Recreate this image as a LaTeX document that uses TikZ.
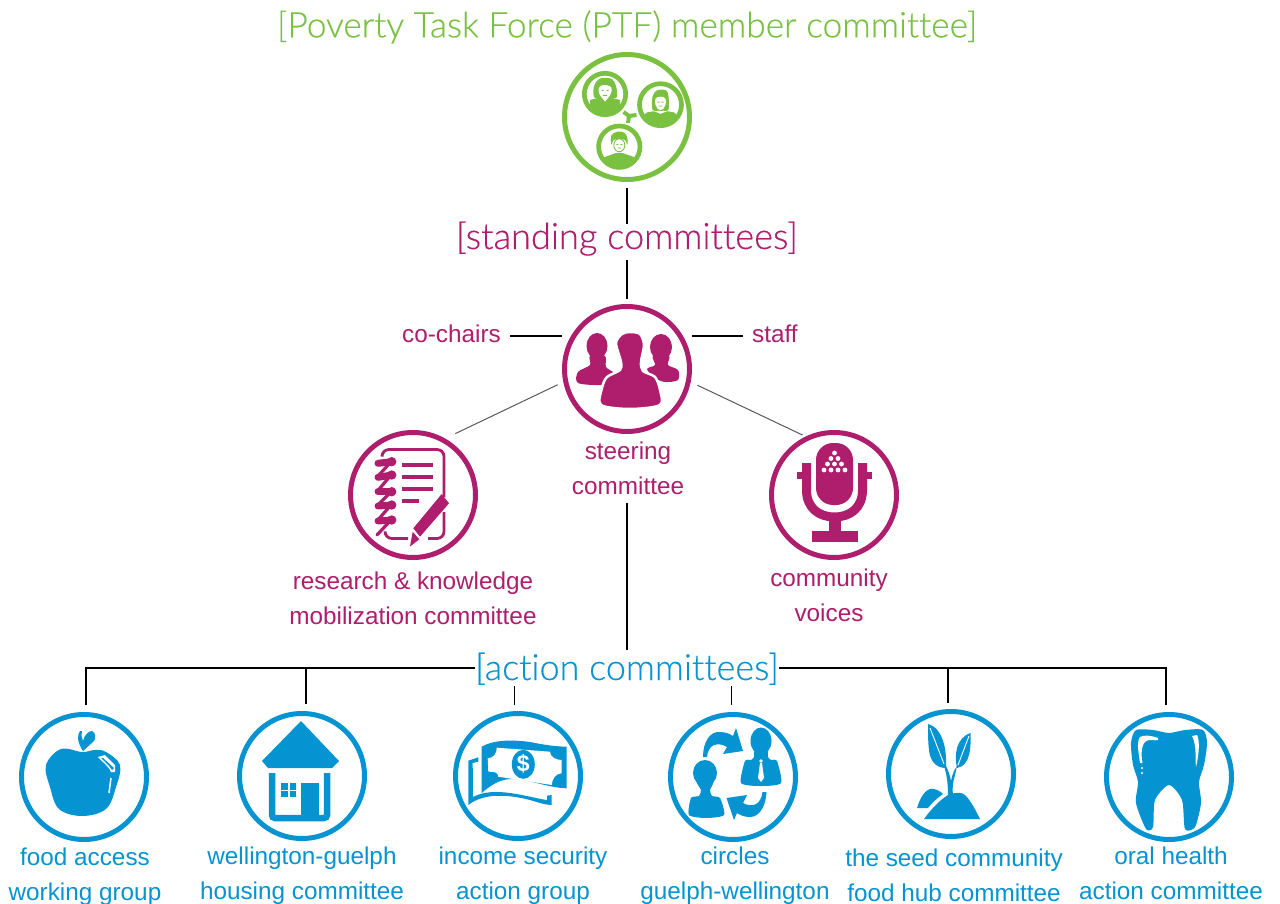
\documentclass[tikz,border=0pt]{standalone}
\usepackage{fontspec}
\setmainfont{Liberation Sans}
\newfontfamily\ttlfont[FakeBold=0.35,RawFeature={-liga}]{Lato Light}
\definecolor{cgreen}{RGB}{122,193,66}
\definecolor{cpink}{RGB}{174,30,109}
\definecolor{cblue}{RGB}{5,148,209}
\tikzset{
 ring/.style={circle,draw=#1,line width=5pt,minimum size=125pt,inner sep=0pt,outer sep=0pt},
 lab/.style={text=#1,font=\fontsize{24.3}{35}\selectfont,align=center,inner sep=0pt},
 ttl/.style={text=#1,inner sep=0pt,text height=25pt,text depth=11pt},
 conn/.style={draw=black,line width=2pt},
 thinconn/.style={draw=black!65,line width=1pt},
 stub/.style={draw=black,line width=1pt},
}
\begin{document}
\begin{tikzpicture}[x=1pt,y=-1pt]
\useasboundingbox (0,0) rectangle (1280,904);
\fill[white] (0,0) rectangle (1280,904);

% rings
\node[ring=cgreen] (ptf) at (627,117) {};
\node[ring=cpink] (steer) at (627,369) {};
\node[ring=cpink] (research) at (413,495) {};
\node[ring=cpink] (voices) at (834,495) {};
\node[ring=cblue] (food) at (84,777) {};
\node[ring=cblue] (housing) at (302,776) {};
\node[ring=cblue] (income) at (518,776) {};
\node[ring=cblue] (circles) at (733,777) {};
\node[ring=cblue] (seed) at (951,774) {};
\node[ring=cblue] (oral) at (1169,777) {};

% titles
\node[text=cgreen,inner sep=0pt,font=\ttlfont\fontsize{35.3}{36}\selectfont] (ptftitle) at (627,27) {[Poverty Task Force (PTF) member committee]};
\node[ttl=cpink,font=\ttlfont\fontsize{36.2}{36}\selectfont] (standing) at (627,242) {[standing committees]};
\node[ttl=cblue,font=\ttlfont\fontsize{36}{36}\selectfont,text height=30pt,text depth=6pt] (action) at (627,668) {[action committees]};

% labels
\node[lab=cpink,anchor=east,text height=20.4pt,text depth=7pt] (cochairs) at (501,336) {co-chairs};
\node[lab=cpink,anchor=west,text height=20.4pt,text depth=7pt] (staff) at (752,336) {staff};
\node[lab=cpink,minimum height=70pt] (steerlab) at (628,468) {steering\\committee};
\node[lab=cpink] (researchlab) at (413,598) {research \& knowledge\\mobilization committee};
\node[lab=cpink] (voiceslab) at (829,595) {community\\voices};
\node[lab=cblue] (foodlab) at (85,877) {food access\\working group};
\node[lab=cblue] (housinglab) at (302,876) {wellington-guelph\\housing committee};
\node[lab=cblue] (incomelab) at (523,876) {income security\\action group};
\node[lab=cblue] (circleslab) at (735,876) {circles\\guelph-wellington};
\node[lab=cblue] (seedlab) at (954,875) {the seed community\\food hub committee};
\node[lab=cblue] (orallab) at (1171,873) {oral health\\action committee};

% connectors
\draw[conn,shorten <=8.5pt] (ptf.south) -- (standing.north);
\draw[conn,shorten >=8pt] (standing.south) -- (steer.north);
\draw[conn,shorten <=9pt,shorten >=2.5pt] (cochairs.east) -- (cochairs.east -| steer.west);
\draw[conn,shorten <=9pt,shorten >=2.5pt] (staff.west) -- (staff.west -| steer.east);
\draw[thinconn,shorten <=8.8pt,shorten >=14.3pt] (steer.191.4) -- (research.62.3);
\draw[thinconn,shorten <=10pt,shorten >=6.6pt] (steer.349) -- (voices.114.5);
\draw[conn] (steerlab.south -| action.north) -- (action.north);
\draw[conn,shorten >=9.5pt] (action.west) -| ([xshift=2pt]food.north);
\draw[conn,shorten >=9.5pt] (action.west) -| ([xshift=4pt]housing.north);
\draw[conn,shorten >=9pt] (action.east) -| ([xshift=-3pt]seed.north);
\draw[conn,shorten >=9.5pt] (action.east) -| ([xshift=-3pt]oral.north);
\draw[stub,shorten >=8.5pt] (action.south -| income.north) ++(-4,0) -- ([xshift=-4pt]income.north);
\draw[stub,shorten >=9.5pt] (action.south -| circles.north) ++(-2,0) -- ([xshift=-2pt]circles.north);

% ---- PTF icon
\begin{scope}[shift={(605,94)}]
 \draw[cgreen,line width=4.7pt] (0,0) circle (20.7);
 \begin{scope}
  \clip (0,0) circle (19);
  \fill[cgreen] (-15,6) -- (-7,4) -- (-4,2) -- (0,8) -- (4,2) -- (7,4) -- (15,6) -- (15,20) -- (-15,20) -- cycle;
  \fill[cgreen] plot[smooth cycle,tension=.6] coordinates {(-11,3) (-11,-8) (-6,-15) (0,-16) (7,-15) (11,-8) (12,3) (7,4) (-6,4)};
  \fill[white] plot[smooth cycle,tension=.7] coordinates {(-6,-6) (-2,-9) (6,-7) (6,-1) (3,4) (0,6) (-3,4) (-6,-1)};
  \fill[cgreen] (-3.5,-4) rectangle +(2.2,1) (1.5,-4) rectangle +(2.2,1) (-2,1) rectangle +(4,.8);
 \end{scope}
\end{scope}
\begin{scope}[shift={(660.5,104.7)}]
 \draw[cgreen,line width=4.7pt] (0,0) circle (21);
 \begin{scope}
  \clip (0,0) circle (19);
  \fill[cgreen] plot[smooth cycle,tension=.6] coordinates {(-15,9) (-6,6) (0,9) (6,6) (15,9) (16,22) (-16,22)};
  \fill[white] (-16,5.5) -- (16,5.5) -- (16,8) -- (7,6.5) -- (0,9) -- (-7,6.5) -- (-16,8) -- cycle;
  \fill[cgreen] plot[smooth cycle,tension=.6] coordinates {(-8,5) (-8,-8) (-4,-14) (1,-15) (6,-14) (8,-8) (8,5) (3,6) (-3,6)};
  \fill[white] plot[smooth cycle,tension=.7] coordinates {(-5,-6) (0,-8) (5,-6) (5,0) (3,4) (0,5.5) (-3,4) (-5,0)};
  \fill[cgreen] (-3,-3) rectangle +(2,1) (1,-3) rectangle +(2,1) (-1.6,1) rectangle +(3.2,.7);
 \end{scope}
\end{scope}
\begin{scope}[shift={(619.3,146.7)}]
 \draw[cgreen,line width=4.7pt] (0,0) circle (20.7);
 \begin{scope}
  \clip (0,0) circle (19);
  \fill[cgreen] plot[smooth cycle,tension=.7] coordinates {(-18,13) (-8,8) (0,6) (8,8) (18,13) (18,22) (-18,22)};
  \fill[cgreen] plot[smooth cycle,tension=.6] coordinates {(-8,-2) (-8,-11) (-2,-15) (5,-14) (8,-9) (8,-2) (5,-7) (-5,-7)};
  \draw[cgreen,line width=.9pt] (0,-1.5) ellipse [x radius=5.5,y radius=6.5];
  \fill[cgreen] (-3,-2.5) rectangle +(2,.9) (1,-2.5) rectangle +(2,.9) (-1.5,1) rectangle +(3,.7);
 \end{scope}
\end{scope}
\draw[cgreen,line width=4pt] (623.5,112) -- (629,116) -- (636.5,115);
\draw[cgreen,line width=4pt] (629,116) -- (628,123);

% ---- steering icon
\fill[cpink] (597,346) ellipse [x radius=10.5,y radius=13];
\fill[cpink] plot[smooth cycle,tension=.5] coordinates {(590,356) (605,356) (606,367) (614,373) (612,380) (602,385) (578,383) (578,372) (590,365)};
\fill[cpink] (661,347) ellipse [x radius=11,y radius=13];
\fill[cpink] plot[smooth cycle,tension=.5] coordinates {(653,356) (669,356) (668,365) (678,370) (678,380) (665,382) (655,378) (647,369) (655,365)};
\filldraw[fill=cpink,draw=white,line width=2.5pt] plot[smooth cycle,tension=.5] coordinates {(616,343) (622,334) (630,332) (640,334) (644,345) (641,362) (643,371) (655,377) (660,390) (660,405) (630,409) (601,405) (602,388) (607,377) (620,370) (621,362)};

% ---- notebook icon
\draw[cpink,line width=2.8pt,rounded corners=7pt] (382,455) -- (382,449.5) -- (444,449.5) -- (444,497);
\draw[cpink,line width=2.8pt,rounded corners=7pt] (444,512) -- (444,538.5) -- (428,538.5);
\draw[cpink,line width=2.8pt,rounded corners=7pt] (408,538.5) -- (385,538.5) -- (385,532);
\foreach \yy/\xe in {464.7/432.7,476.7/432.7,488.7/432.7,500.7/419.3}
 \draw[cpink,line width=4.3pt] (402.3,\yy) -- (\xe,\yy);
\foreach \ya/\yb in {461.7/463.3,475/477.3,491.7/491.7,505/506,520/521}{
 \draw[cpink,line width=7pt,line cap=round] (378,\yb) -- (392,\ya);
 \fill[cpink] (391.7,\ya) circle (4.7);
}
\foreach \ya/\yb in {461.7/477.3,475/491.7,491.7/506,505/521,520/535}
 \draw[cpink,line width=3.2pt,line cap=round] (391,\ya) -- (377,\yb);
\fill[cpink] (441.7,494) -- (449,503.3) -- (420,536.7) -- (413.3,528.3) -- cycle;
\fill[cpink] (412.7,531.7) -- (419.3,539.3) -- (410,546.5) -- cycle;

% ---- microphone icon
\draw[cpink,line width=9pt] (806.5,463) -- (806.5,490) .. controls (806.5,508) and (819,517) .. (834.5,517) .. controls (850,517) and (862.5,508) .. (862.5,490) -- (862.5,463);
\fill[cpink] (797,472) rectangle (811,479);
\fill[cpink] (858,472) rectangle (872,479);
\fill[cpink,rounded corners=17pt] (816,443) rectangle (853,505);
\fill[cpink] (829,517) rectangle (840.5,533);
\fill[cpink] (812,531) rectangle (858,542);
\foreach \xx/\yy in {834.5/453, 831/458.5,838/458.5, 827.5/464,834.5/464,841.5/464, 824/470,831/470,838/470,845/470}
 \fill[white] (\xx,\yy) circle (2.4);

% ---- apple
\fill[cblue] plot[smooth cycle,tension=.6] coordinates {(82,752) (95,750) (106,752) (120,765) (116,787) (106,809) (82,816) (59,809) (50,787) (46,765) (61,749)};
\fill[cblue] (83,751) .. controls (77,742) and (77,735) .. (80,731) -- (82,731) .. controls (81,736) and (82,738) .. (83,741) .. controls (84,736) and (88,731) .. (92,731) .. controls (96,733) and (96,738) .. (94,741) -- cycle;
\fill[white] (98,757) -- (105,755) -- (115,765) -- (115,772) -- (111,772) .. controls (108,765) and (102,762) .. cycle;
\fill[cblue] (103,758) -- (114,768) -- (112,770) .. controls (109,765) and (105,762) .. (101,758) -- cycle;
\draw[white,line width=1.5pt] (111,778) -- (109,793);

% ---- house
\fill[cblue] (301,721) -- (339,761) -- (332,768) -- (268,768) -- (262,761) -- cycle;
\draw[cblue,line width=6.5pt,rounded corners=3pt] (272,773) -- (272,818) -- (327,818) -- (327,773);
\fill[cblue] (301,783) rectangle (319,818);
\foreach \xx/\yy in {281/783,289.5/783,281/790.5,289.5/790.5}
 \fill[cblue] (\xx,\yy) rectangle +(6.5,6.5);

% ---- money
\fill[cblue] (478.3,757.3) -- (468.3,760.7) -- (468.3,805) .. controls (485,792) and (510,795) .. (530,800) .. controls (540,803) and (546,805) .. (551.7,805) -- (551.7,795) -- (547,795.7) -- (547,800) .. controls (530,798) and (495,785) .. (473,797) -- (472.7,763) -- (478.3,761.7) -- cycle;
\fill[cblue] (481.7,746.7) .. controls (495,739) and (515,740) .. (530,742) .. controls (545,745) and (555,746.5) .. (566.7,746.7) -- (566.7,788.3) .. controls (550,788) and (530,780) .. (515,779) .. controls (500,778) and (490,786) .. (481.7,793) -- cycle;
\fill[white] (496.7,747.7) -- (550,751.7) .. controls (550,757) and (556,760) .. (561.7,760) -- (561.7,773.3) .. controls (556,773) and (552,779) .. (551.7,785) -- (498.3,776.7) .. controls (498,772) and (494,771.7) .. (488.3,771.7) -- (487.7,758.3) .. controls (494,758) and (497,753) .. cycle;
\fill[cblue] (523.3,764.3) ellipse [x radius=11.5,y radius=14.5];
\node[text=white,inner sep=0pt,font=\fontsize{23}{23}\selectfont\bfseries] (dollar) at (523.3,764.3) {\$};

% ---- circles icon
\fill[cblue] (761,741) ellipse [x radius=10.5,y radius=13.5];
\fill[cblue] plot[smooth cycle,tension=.4] coordinates {(755,750) (767,750) (768,757) (771,760) (777,761) (781,783) (761,786) (741,783) (745,761) (751,760) (754,757)};
\fill[white] (761,761) circle (1.8);
\fill[white] (760,763) -- (762,763) -- (764,778) -- (761,782) -- (758,778) -- cycle;
\fill[cblue] (705,773) ellipse [x radius=12,y radius=13];
\fill[cblue] plot[smooth cycle,tension=.4] coordinates {(697,782) (713,782) (710,790) (712,796) (720,798) (724,815) (706,818) (689,815) (691,798) (699,796) (701,790)};
\fill[cblue] (703,757) .. controls (703,742) and (710,731) .. (720,732) .. controls (726,732) and (730,734) .. (733,736) -- (736,728) -- (743,751) -- (723,754) -- (727,747) .. controls (717,741) and (708,745) .. (707,757) -- cycle;
\fill[cblue] (766.5,792) .. controls (766,805) and (760,817) .. (750,817) .. controls (744,817) and (740,815) .. (737,813) -- (734,820) -- (726.5,798) -- (747,795) -- (743,803) .. controls (752,808) and (761,805) .. (762.5,792) -- cycle;

% ---- seed
\fill[cblue] (928,724) .. controls (943,728) and (947,750) .. (946,768) .. controls (935,768) and (930,760) .. (929,750) .. controls (928,742) and (928,733) .. cycle;
\draw[white,line width=.9pt] (930,728) -- (944,764);
\fill[cblue] (970.5,733) .. controls (971,745) and (971,766) .. (957,768) .. controls (954,755) and (956,738) .. cycle;
\draw[white,line width=.9pt] (969,736) -- (958,765);
\fill[cblue] (944,766) -- (946,766) .. controls (948,770) and (950,775) .. (951,781) .. controls (952,775) and (954,770) .. (957,766) -- (955,775) .. controls (953,782) and (952,788) .. (953,795) -- (948,795) .. controls (948,785) and (947,775) .. cycle;
\fill[cblue] (924,819) .. controls (932,808) and (940,800) .. (948,795) .. controls (955,792) and (962,792) .. (965,795) .. controls (971,801) and (976,811) .. (980,819) -- cycle;
\fill[cblue] (917,808) .. controls (920,798) and (925,790) .. (930,789) .. controls (935,788) and (940,791) .. (943,794) .. controls (937,798) and (932,803) .. (928,808) -- cycle;

% ---- tooth
\fill[cblue] plot[smooth cycle,tension=.45] coordinates {(1169,733) (1185,730) (1203,730) (1207,743) (1204,765) (1199,782) (1201,803) (1195,827) (1185,829) (1182,800) (1169,785) (1155,800) (1153,827) (1146,829) (1136,803) (1138,782) (1133,765) (1131,743) (1136,730) (1153,730)};
\fill[white] (1158,738) .. controls (1150,735) and (1143,735) .. (1140,737) .. controls (1136,742) and (1139,755) .. (1140,763) -- (1142.5,763) .. controls (1141,755) and (1141,745) .. (1146,741) .. controls (1150,739) and (1155,741) .. (1158,740) -- cycle;
\fill[white] (1192,736) -- (1197,735) .. controls (1200,740) and (1199,755) .. (1196,767) .. controls (1195,760) and (1197,745) .. cycle;
\fill[white] (1142,768) circle (1.2);
\fill[white] (1142,773) circle (1.2);
\end{tikzpicture}
\end{document}
